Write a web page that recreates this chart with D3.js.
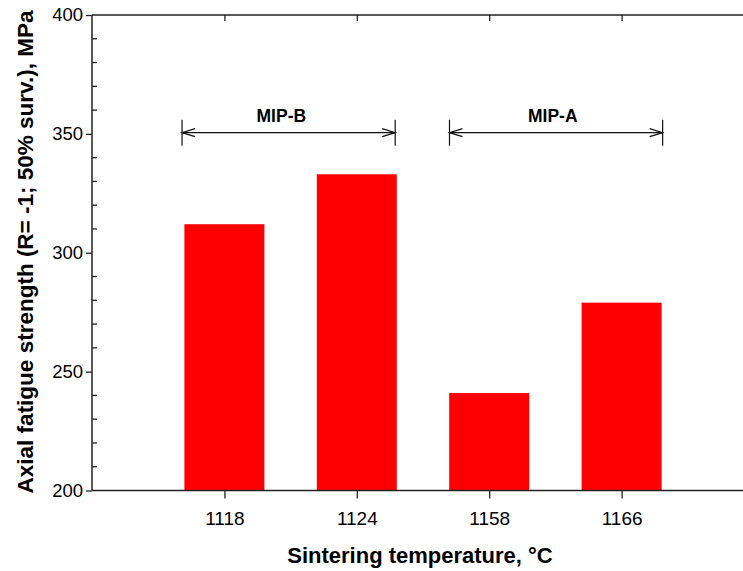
<!DOCTYPE html>
<html>
<head>
<meta charset="utf-8">
<script src="https://cdn.jsdelivr.net/npm/d3@7"></script>
<style>
body{margin:0;background:#fff;}
text{font-family:"Liberation Sans",Arial,sans-serif;fill:#000;}
</style>
</head>
<body>
<svg id="chart" width="743" height="571"></svg>
<script>
// data
var temps = ["1118", "1124", "1158", "1166"];
var strength = [312, 333, 241, 279];
var groups = ["MIP-B", "MIP-A"];
var groupStart = [0.68, 2.70];
var groupEnd = [2.29, 4.31];
var groupLabelAt = [1.43, 3.48];
var groupLevel = 350.5;
var yMajor = [200, 250, 300, 350, 400];
var yMinor = d3.range(210, 400, 10).filter(function(v){ return v % 50 != 0; });

var svg = d3.select('#chart');
var plotLeft = 92, plotTop = 15, plotBottom = 490.5, plotRight = 754;

var x = d3.scaleLinear().domain([0, 5]).range([plotLeft, plotRight]);
var y = d3.scaleLinear().domain([200, 400]).range([plotBottom, plotTop]);

// bars
svg.selectAll('.bar').data(strength)
    .enter()
    .append('rect')
    .attr('class', 'bar')
    .attr('x', function(d, i){ return x(i + 1) - 40; })
    .attr('width', 80)
    .attr('y', function(d){ return y(d); })
    .attr('height', function(d){ return y(200) - y(d); })
    .style('fill', '#ff0000');

var axisColor = '#222';
var tickFont = '"Liberation Sans",Arial,sans-serif';

// left axis, major ticks outward
var yAxis = svg.append('g').attr('transform', 'translate(' + plotLeft + ',0)')
    .call(d3.axisLeft(y).tickValues(yMajor).tickSize(6).tickPadding(3));
yAxis.select('.domain').remove();
yAxis.selectAll('line').style('stroke', axisColor).style('stroke-width', 1.3);
yAxis.selectAll('text').style('font-size', '18.5px').style('font-family', tickFont);

// minor ticks inward
svg.selectAll('.minor').data(yMinor)
    .enter()
    .append('line')
    .attr('class', 'minor')
    .attr('x1', plotLeft).attr('x2', plotLeft + 5)
    .attr('y1', function(d){ return y(d); })
    .attr('y2', function(d){ return y(d); })
    .style('stroke', axisColor).style('stroke-width', 1.3);

// bottom axis
var xAxis = svg.append('g').attr('transform', 'translate(0,' + plotBottom + ')')
    .call(d3.axisBottom(x).tickValues([1, 2, 3, 4]).tickSize(8).tickPadding(13)
        .tickFormat(function(d){ return temps[d - 1]; }));
xAxis.select('.domain').remove();
xAxis.selectAll('line').style('stroke', axisColor).style('stroke-width', 1.3);
xAxis.selectAll('text').style('font-size', '19px').style('font-family', tickFont);

// top axis, ticks inward
var topAxis = svg.append('g').attr('transform', 'translate(0,' + plotTop + ')')
    .call(d3.axisBottom(x).tickValues([1, 2, 3, 4]).tickSize(6).tickFormat(''));
topAxis.select('.domain').remove();
topAxis.selectAll('line').style('stroke', axisColor).style('stroke-width', 1.3);

// frame lines
svg.append('line').attr('x1', plotLeft).attr('x2', 743).attr('y1', plotTop).attr('y2', plotTop)
    .style('stroke', axisColor).style('stroke-width', 1.5);
svg.append('line').attr('x1', plotLeft).attr('x2', 743).attr('y1', plotBottom).attr('y2', plotBottom)
    .style('stroke', axisColor).style('stroke-width', 1.5);
svg.append('line').attr('x1', plotLeft).attr('x2', plotLeft).attr('y1', plotTop).attr('y2', plotBottom)
    .style('stroke', axisColor).style('stroke-width', 1.5);

// group arrows
var ga = svg.selectAll('.grp').data(groups)
    .enter()
    .append('g')
    .attr('class', 'grp');
ga.each(function(d, i){
    var g = d3.select(this);
    var x1 = x(groupStart[i]), x2 = x(groupEnd[i]), yy = y(groupLevel);
    var st = function(sel){ return sel.style('stroke', '#111').style('stroke-width', 1.2).style('fill', 'none'); };
    st(g.append('line').attr('x1', x1).attr('x2', x2).attr('y1', yy).attr('y2', yy));
    st(g.append('line').attr('x1', x1).attr('x2', x1).attr('y1', yy - 13).attr('y2', yy + 13));
    st(g.append('line').attr('x1', x2).attr('x2', x2).attr('y1', yy - 13).attr('y2', yy + 13));
    st(g.append('path').attr('d', 'M' + (x1 + 13) + ',' + (yy - 4) + 'L' + x1 + ',' + yy + 'L' + (x1 + 13) + ',' + (yy + 4)));
    st(g.append('path').attr('d', 'M' + (x2 - 13) + ',' + (yy - 4) + 'L' + x2 + ',' + yy + 'L' + (x2 - 13) + ',' + (yy + 4)));
    g.append('text')
        .attr('x', x(groupLabelAt[i]))
        .attr('y', yy - 11)
        .attr('text-anchor', 'middle')
        .style('font-size', '17.5px')
        .style('font-weight', 'bold')
        .text(d);
});

// axis titles
svg.append('text')
    .attr('x', 420)
    .attr('y', 563)
    .attr('text-anchor', 'middle')
    .style('font-size', '22px')
    .style('font-weight', 'bold')
    .text('Sintering temperature, °C');

svg.append('text')
    .attr('transform', 'translate(33,252) rotate(-90)')
    .attr('text-anchor', 'middle')
    .style('font-size', '22.5px')
    .style('font-weight', 'bold')
    .text('Axial fatigue strength (R= -1; 50% surv.), MPa');
</script>
</body>
</html>
